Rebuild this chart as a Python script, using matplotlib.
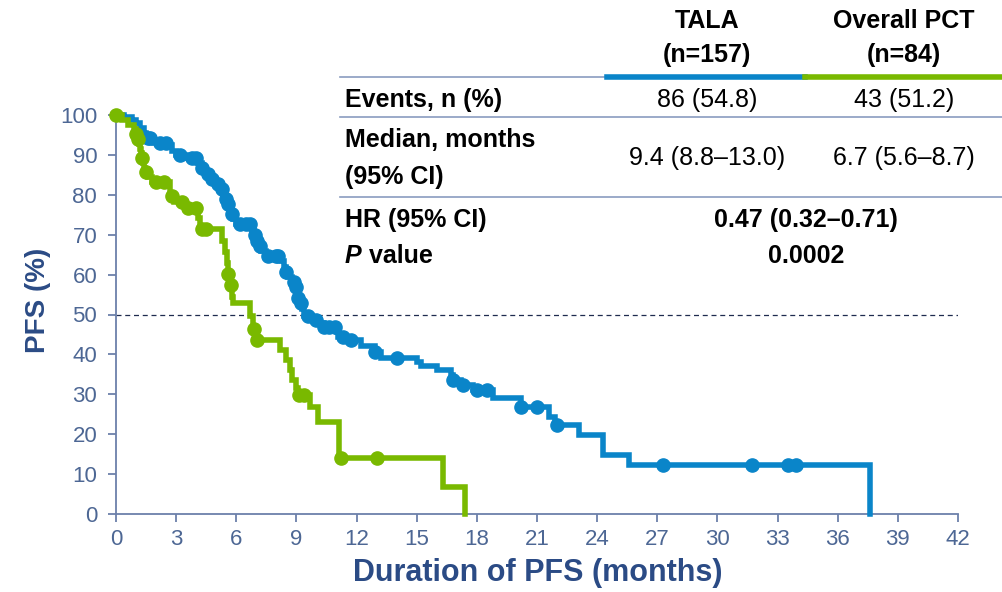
import numpy as np
import matplotlib
matplotlib.use("Agg")
import matplotlib.pyplot as plt
from matplotlib.lines import Line2D

plt.rcParams['font.family'] = ['Liberation Sans', 'DejaVu Sans']

# Kaplan-Meier steps: time (months) where survival drops, PFS (%) after the drop
tala_t = [0, 0.4, 0.8, 1.0, 1.2, 1.4, 1.5, 1.9, 2.6, 2.8, 3.0, 3.5, 4.1, 4.3, 4.5,
          4.8, 5.0, 5.2, 5.35, 5.5, 5.6, 5.7, 5.75, 5.85, 6.0, 6.8, 6.9, 7.0, 7.1,
          7.25, 7.5, 8.3, 8.4, 8.5, 8.6, 8.8, 9.0, 9.05, 9.1, 9.2, 9.3, 9.4, 9.8,
          10.2, 10.4, 11.0, 11.05, 11.5, 12.2, 12.9, 13.2, 15.0, 15.2, 16.0, 16.7,
          16.8, 17.2, 17.8, 18.8, 20.2, 21.6, 21.9, 23.1, 24.3, 25.6, 37.6]
tala_s = [100, 99.4, 98.7, 98.0, 96.7, 95.5, 94.3, 93.0, 92.4, 91.1, 90.0, 89.3, 88.0,
          86.6, 85.3, 84.0, 82.8, 81.5, 80.2, 79.0, 77.7, 76.4, 75.1, 73.9, 72.6, 71.1,
          69.8, 68.5, 67.2, 65.9, 64.6, 63.3, 62.0, 60.7, 59.4, 58.1, 56.8, 55.5, 54.2,
          52.9, 51.3, 49.7, 48.7, 47.9, 46.9, 45.6, 44.4, 43.5, 42.0, 40.5, 39.2, 38.2,
          37.1, 36.0, 34.8, 33.6, 32.3, 31.0, 29.0, 26.8, 24.3, 22.3, 19.8, 14.8, 12.3, 0]
tala_cens = [1.6, 1.7, 2.2, 2.5, 3.2, 3.8, 4.0, 4.3, 4.6, 4.8, 5.1, 5.3, 5.5, 5.6, 5.8,
             6.2, 6.5, 6.7, 6.95, 7.05, 7.2, 7.6, 8.0, 8.1, 8.5, 8.9, 9.0, 9.1, 9.25,
             9.6, 10.0, 10.4, 10.6, 10.9, 11.3, 11.7, 12.9, 14.0, 16.8, 17.3, 18.0,
             18.5, 20.2, 21.0, 22.0, 27.3, 31.7, 33.5, 33.9]

pct_t = [0, 0.3, 0.6, 0.9, 1.0, 1.1, 1.15, 1.2, 1.25, 1.3, 1.35, 1.4, 1.45, 1.6, 1.8,
         2.7, 2.9, 3.5, 4.1, 4.2, 5.3, 5.45, 5.55, 5.6, 5.7, 5.8, 5.85, 6.7, 6.85, 7.0,
         8.2, 8.5, 8.7, 8.8, 9.0, 9.1, 9.7, 10.1, 11.1, 16.3, 17.4]
pct_s = [100, 98.8, 97.6, 96.4, 95.2, 94.0, 92.8, 91.6, 90.4, 89.2, 88.0, 86.8, 85.6,
         84.4, 83.2, 79.6, 78.3, 76.8, 74.2, 71.4, 68.5, 65.7, 62.9, 60.1, 57.3, 54.5,
         52.9, 49.5, 46.3, 43.6, 41.0, 38.6, 36.0, 33.6, 31.6, 29.8, 26.8, 23.0, 14.0,
         6.8, 0]
pct_cens = [0.0, 1.0, 1.1, 1.3, 1.5, 2.0, 2.4, 2.8, 3.3, 3.6, 4.0, 4.3, 4.5, 5.6, 5.75,
            6.9, 7.05, 9.15, 9.4, 11.2, 13.0]

x_ticks = list(range(0, 43, 3))
y_ticks = list(range(0, 101, 10))

# summary table
col_heads = [('TALA', '(n=157)'), ('Overall PCT', '(n=84)')]
events = ['86 (54.8)', '43 (51.2)']
medians = ['9.4 (8.8\u201313.0)', '6.7 (5.6\u20138.7)']
hr_text = '0.47 (0.32\u20130.71)'
p_text = '0.0002'

BLUE = '#0a85c9'
GREEN = '#79b900'
AXC = '#6c80aa'
TICKC = '#4d6794'
LABC = '#2b4b85'
RULE = '#8a9cc0'

W, H = 1003, 592
fig = plt.figure(figsize=(W / 100, H / 100), dpi=100)
ax = fig.add_axes([116 / W, 1 - 514 / H, (958 - 116) / W, (514 - 115) / H])


def step_value(t, s, x):
    i = np.searchsorted(t, x, side='right') - 1
    return np.array(s)[i]


ax.axhline(50, color='#1f2b4f', lw=0.9, ls=(0, (4, 3)), zorder=1)

for t, s, c, cens, z in [(tala_t, tala_s, BLUE, tala_cens, 3),
                         (pct_t, pct_s, GREEN, pct_cens, 4)]:
    ax.step(t, s, where='post', color=c, lw=4, solid_joinstyle='miter',
            clip_on=False, zorder=z)
    ax.plot(cens, step_value(t, s, cens), 'o', color=c, ms=9.5, clip_on=False,
            zorder=z)

ax.set_xlim(0, 42)
ax.set_ylim(0, 100)
ax.set_xticks(x_ticks)
ax.set_yticks(y_ticks)
for side in ['top', 'right']:
    ax.spines[side].set_visible(False)
for side in ['left', 'bottom']:
    ax.spines[side].set_color(AXC)
    ax.spines[side].set_linewidth(1.3)
ax.tick_params(axis='both', colors=AXC, labelcolor=TICKC, labelsize=16,
               length=5.5, width=1.3, direction='out')
ax.tick_params(axis='x', pad=5)
ax.tick_params(axis='y', pad=8)

fig.text(538 / W, 1 - 573 / H, 'Duration of PFS (months)', ha='center', va='center',
         fontsize=22, fontweight='bold', color=LABC)
fig.text(38 / W, 1 - 300 / H, 'PFS (%)', ha='center', va='center', rotation=90,
         fontsize=20, fontweight='bold', color=LABC)


def fx(px):
    return px / W


def fy(py):
    return 1 - py / H


# table rules
for py in [77, 117, 197]:
    fig.add_artist(Line2D([fx(340), fx(1003)], [fy(py), fy(py)], color=RULE, lw=1.2))
fig.add_artist(Line2D([fx(607), fx(805)], [fy(77), fy(77)], color=BLUE, lw=4))
fig.add_artist(Line2D([fx(805), fx(1003)], [fy(77), fy(77)], color=GREEN, lw=4))

col_x = [707, 904]
tk = dict(fontsize=18, color='black', va='center')
for cx, (h1, h2) in zip(col_x, col_heads):
    fig.text(fx(cx), fy(21), h1, ha='center', fontweight='bold', **tk)
    fig.text(fx(cx), fy(55), h2, ha='center', fontweight='bold', **tk)

lx = 345
fig.text(fx(lx), fy(100), 'Events, n (%)', ha='left', fontweight='bold', **tk)
fig.text(fx(lx), fy(140), 'Median, months', ha='left', fontweight='bold', **tk)
fig.text(fx(lx), fy(177), '(95% CI)', ha='left', fontweight='bold', **tk)
fig.text(fx(lx), fy(220), 'HR (95% CI)', ha='left', fontweight='bold', **tk)
p_lab = fig.text(fx(lx), fy(256), 'P', ha='left', fontweight='bold', style='italic', **tk)
ax.annotate(' value', xy=(1, 0), xycoords=p_lab, ha='left', va='bottom',
            fontsize=18, fontweight='bold', color='black')

for cx, ev, md in zip(col_x, events, medians):
    fig.text(fx(cx), fy(100), ev, ha='center', **tk)
    fig.text(fx(cx), fy(158), md, ha='center', **tk)

fig.text(fx(806), fy(220), hr_text, ha='center', fontweight='bold', **tk)
fig.text(fx(806), fy(256), p_text, ha='center', fontweight='bold', **tk)

fig.savefig('out.png', dpi=100)
